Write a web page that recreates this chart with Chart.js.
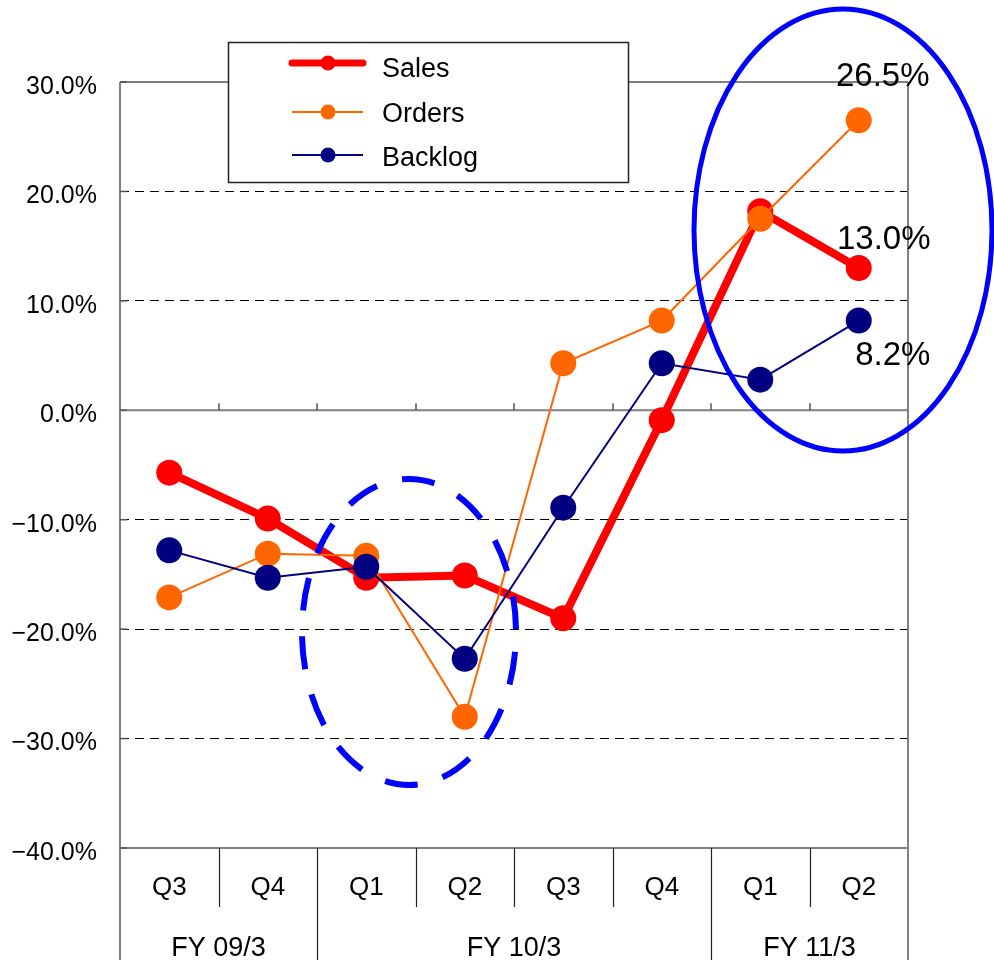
<!DOCTYPE html>
<html><head><meta charset="utf-8">
<script src="https://cdn.jsdelivr.net/npm/chart.js@4/dist/chart.umd.min.js"></script>
<style>html,body{margin:0;padding:0;background:#fff}canvas{display:block}</style>
</head><body>
<canvas id="c" width="994" height="960"></canvas>
<script>
// ---- data ----
const quarters = ['Q3','Q4','Q1','Q2','Q3','Q4','Q1','Q2'];
const fiscalYears = ['FY 09/3','FY 10/3','FY 11/3'];
const fiscalSpans = [2,4,2];
const sales   = [-5.7, -9.9, -15.3, -15.1, -19.0, -0.9, 18.2, 13.0];
const orders  = [-17.1, -13.1, -13.3, -28.0, 4.3, 8.2, 17.5, 26.5];
const backlog = [-12.8, -15.3, -14.3, -22.7, -8.9, 4.3, 2.8, 8.2];
const yTickValues = [30, 20, 10, 0, -10, -20, -30, -40];

const FONT = "'Liberation Sans', Arial, Helvetica, sans-serif";
const GRAY = '#808080';

function pct(v){ return (v < 0 ? '\u2212' : '') + Math.abs(v).toFixed(1) + '%'; }
function ln(ctx, x1, y1, x2, y2){ ctx.beginPath(); ctx.moveTo(x1,y1); ctx.lineTo(x2,y2); ctx.stroke(); }

const framePlugin = {
  id: 'frame',
  beforeDatasetsDraw(chart){
    const {ctx, chartArea:a, scales:{x, y}} = chart;
    const H = chart.height;
    const n = quarters.length;
    ctx.save();
    ctx.strokeStyle = GRAY; ctx.lineWidth = 2; ctx.setLineDash([]);
    ln(ctx, a.left, a.top, a.right, a.top);
    ln(ctx, a.left, a.bottom, a.right, a.bottom);
    ln(ctx, a.left, a.top, a.left, H);
    ln(ctx, a.right, a.top, a.right, H);
    const y0 = y.getPixelForValue(0);
    ln(ctx, a.left, y0, a.right, y0);
    // tick marks on zero line at category boundaries
    ctx.lineWidth = 1.5;
    ctx.strokeStyle = '#555';
    for (let i = 1; i < n; i++){
      const bx = Math.round((x.getPixelForValue(i-1) + x.getPixelForValue(i)) / 2);
      ln(ctx, bx, y0, bx, y0 - 7);
    }
    // y ticks inward
    for (const v of yTickValues){
      const py = y.getPixelForValue(v);
      ln(ctx, a.left, py, a.left + 7, py);
    }
    // category separators below the plot
    ctx.strokeStyle = '#222'; ctx.lineWidth = 1.2;
    const fyBounds = new Set();
    let acc = 0;
    for (const s of fiscalSpans){ acc += s; fyBounds.add(acc); }
    for (let i = 1; i < n; i++){
      const bx = Math.round((x.getPixelForValue(i-1) + x.getPixelForValue(i)) / 2) + 0.5;
      ln(ctx, bx, a.bottom, bx, fyBounds.has(i) ? H : a.bottom + 59);
    }
    // fiscal year labels
    ctx.fillStyle = '#000';
    ctx.font = '27px ' + FONT;
    ctx.textAlign = 'center'; ctx.textBaseline = 'middle';
    let start = 0;
    fiscalYears.forEach((fy, k) => {
      const end = start + fiscalSpans[k] - 1;
      const cx = (x.getPixelForValue(start) + x.getPixelForValue(end)) / 2;
      ctx.fillText(fy, cx, 949);
      start = end + 1;
    });
    ctx.restore();
  },
  afterDatasetsDraw(chart){
    const {ctx, scales:{x, y}} = chart;
    ctx.save();
    // legend box
    ctx.fillStyle = '#fff';
    ctx.fillRect(228, 42, 401, 141);
    ctx.strokeStyle = '#222'; ctx.lineWidth = 1.5;
    ctx.strokeRect(228.5, 42.5, 400, 140);
    const rows = [63, 112, 155];
    const textRows = [70, 115, 159];
    chart.data.datasets.forEach((ds, i) => {
      const ly = rows[i];
      ctx.strokeStyle = ds.borderColor;
      ctx.lineWidth = ds.borderWidth === 8 ? 7 : 2;
      ctx.lineCap = ds.borderWidth === 8 ? 'round' : 'butt';
      ln(ctx, 292, ly, 363, ly);
      ctx.fillStyle = ds.pointBackgroundColor;
      ctx.beginPath(); ctx.arc(328, ly, 7.5, 0, Math.PI*2); ctx.fill();
      ctx.fillStyle = '#000';
      ctx.font = '27px ' + FONT;
      ctx.textAlign = 'left'; ctx.textBaseline = 'middle';
      ctx.fillText(ds.label, 382, textRows[i]);
    });
    ctx.lineCap = 'butt';
    // solid ellipse around latest two quarters
    ctx.strokeStyle = '#0000FF';
    ctx.lineWidth = 5;
    ctx.beginPath();
    ctx.ellipse(843, 230, 149, 221, 0, 0, Math.PI*2);
    ctx.stroke();
    // dashed ellipse
    ctx.lineWidth = 6;
    ctx.setLineDash([33, 26]);
    ctx.lineDashOffset = 39;
    ctx.beginPath();
    ctx.ellipse(409, 632, 107, 153, 0, 0, Math.PI*2);
    ctx.stroke();
    ctx.setLineDash([]);
    // callouts for the last quarter
    const last = quarters.length - 1;
    const callouts = [
      {data: orders, dx: 24, dy: -43},
      {data: sales, dx: 25, dy: -28},
      {data: backlog, dx: 34, dy: 35}
    ];
    ctx.fillStyle = '#000';
    ctx.font = '33px ' + FONT;
    ctx.textAlign = 'center'; ctx.textBaseline = 'middle';
    for (const c of callouts){
      const px = x.getPixelForValue(last);
      const py = y.getPixelForValue(c.data[last]);
      ctx.fillText(pct(c.data[last]), px + c.dx, py + c.dy);
    }
    ctx.restore();
  }
};

new Chart(document.getElementById('c'), {
  type: 'line',
  data: {
    labels: quarters,
    datasets: [
      {label: 'Sales', data: sales, borderColor: '#FF0000', backgroundColor: '#FF0000',
       pointBackgroundColor: '#FF0000', borderWidth: 8, pointRadius: 13, pointBorderWidth: 0,
       pointHoverRadius: 13, order: 3, tension: 0},
      {label: 'Orders', data: orders, borderColor: '#FF6600', backgroundColor: '#FF6600',
       pointBackgroundColor: '#FF6600', borderWidth: 2, pointRadius: 13, pointBorderWidth: 0,
       pointHoverRadius: 13, order: 2, tension: 0},
      {label: 'Backlog', data: backlog, borderColor: '#000080', backgroundColor: '#000080',
       pointBackgroundColor: '#000080', borderWidth: 2, pointRadius: 13, pointBorderWidth: 0,
       pointHoverRadius: 13, order: 1, tension: 0}
    ]
  },
  options: {
    responsive: false,
    animation: false,
    layout: {padding: {top: 82, right: 86, left: 0, bottom: 0}},
    plugins: {legend: {display: false}, tooltip: {enabled: false}},
    scales: {
      x: {
        offset: true,
        grid: {display: false, drawTicks: false},
        border: {display: false},
        ticks: {color: '#000', font: {family: FONT, size: 26}, padding: 24,
                maxRotation: 0, autoSkip: false},
        afterFit(s){ s.height = 112; }
      },
      y: {
        min: -40, max: 30,
        ticks: {stepSize: 10, color: '#000', font: {family: FONT, size: 25}, padding: 23,
                labelOffset: 5, callback: v => pct(v)},
        grid: {drawTicks: false, lineWidth: 1,
               color: c => [30, 0, -40].includes(c.tick && c.tick.value) ? 'rgba(0,0,0,0)' : '#000'},
        border: {display: false, dash: [9, 6]},
        afterFit(s){ s.width = 120; }
      }
    }
  },
  plugins: [framePlugin]
});
</script>
</body></html>
